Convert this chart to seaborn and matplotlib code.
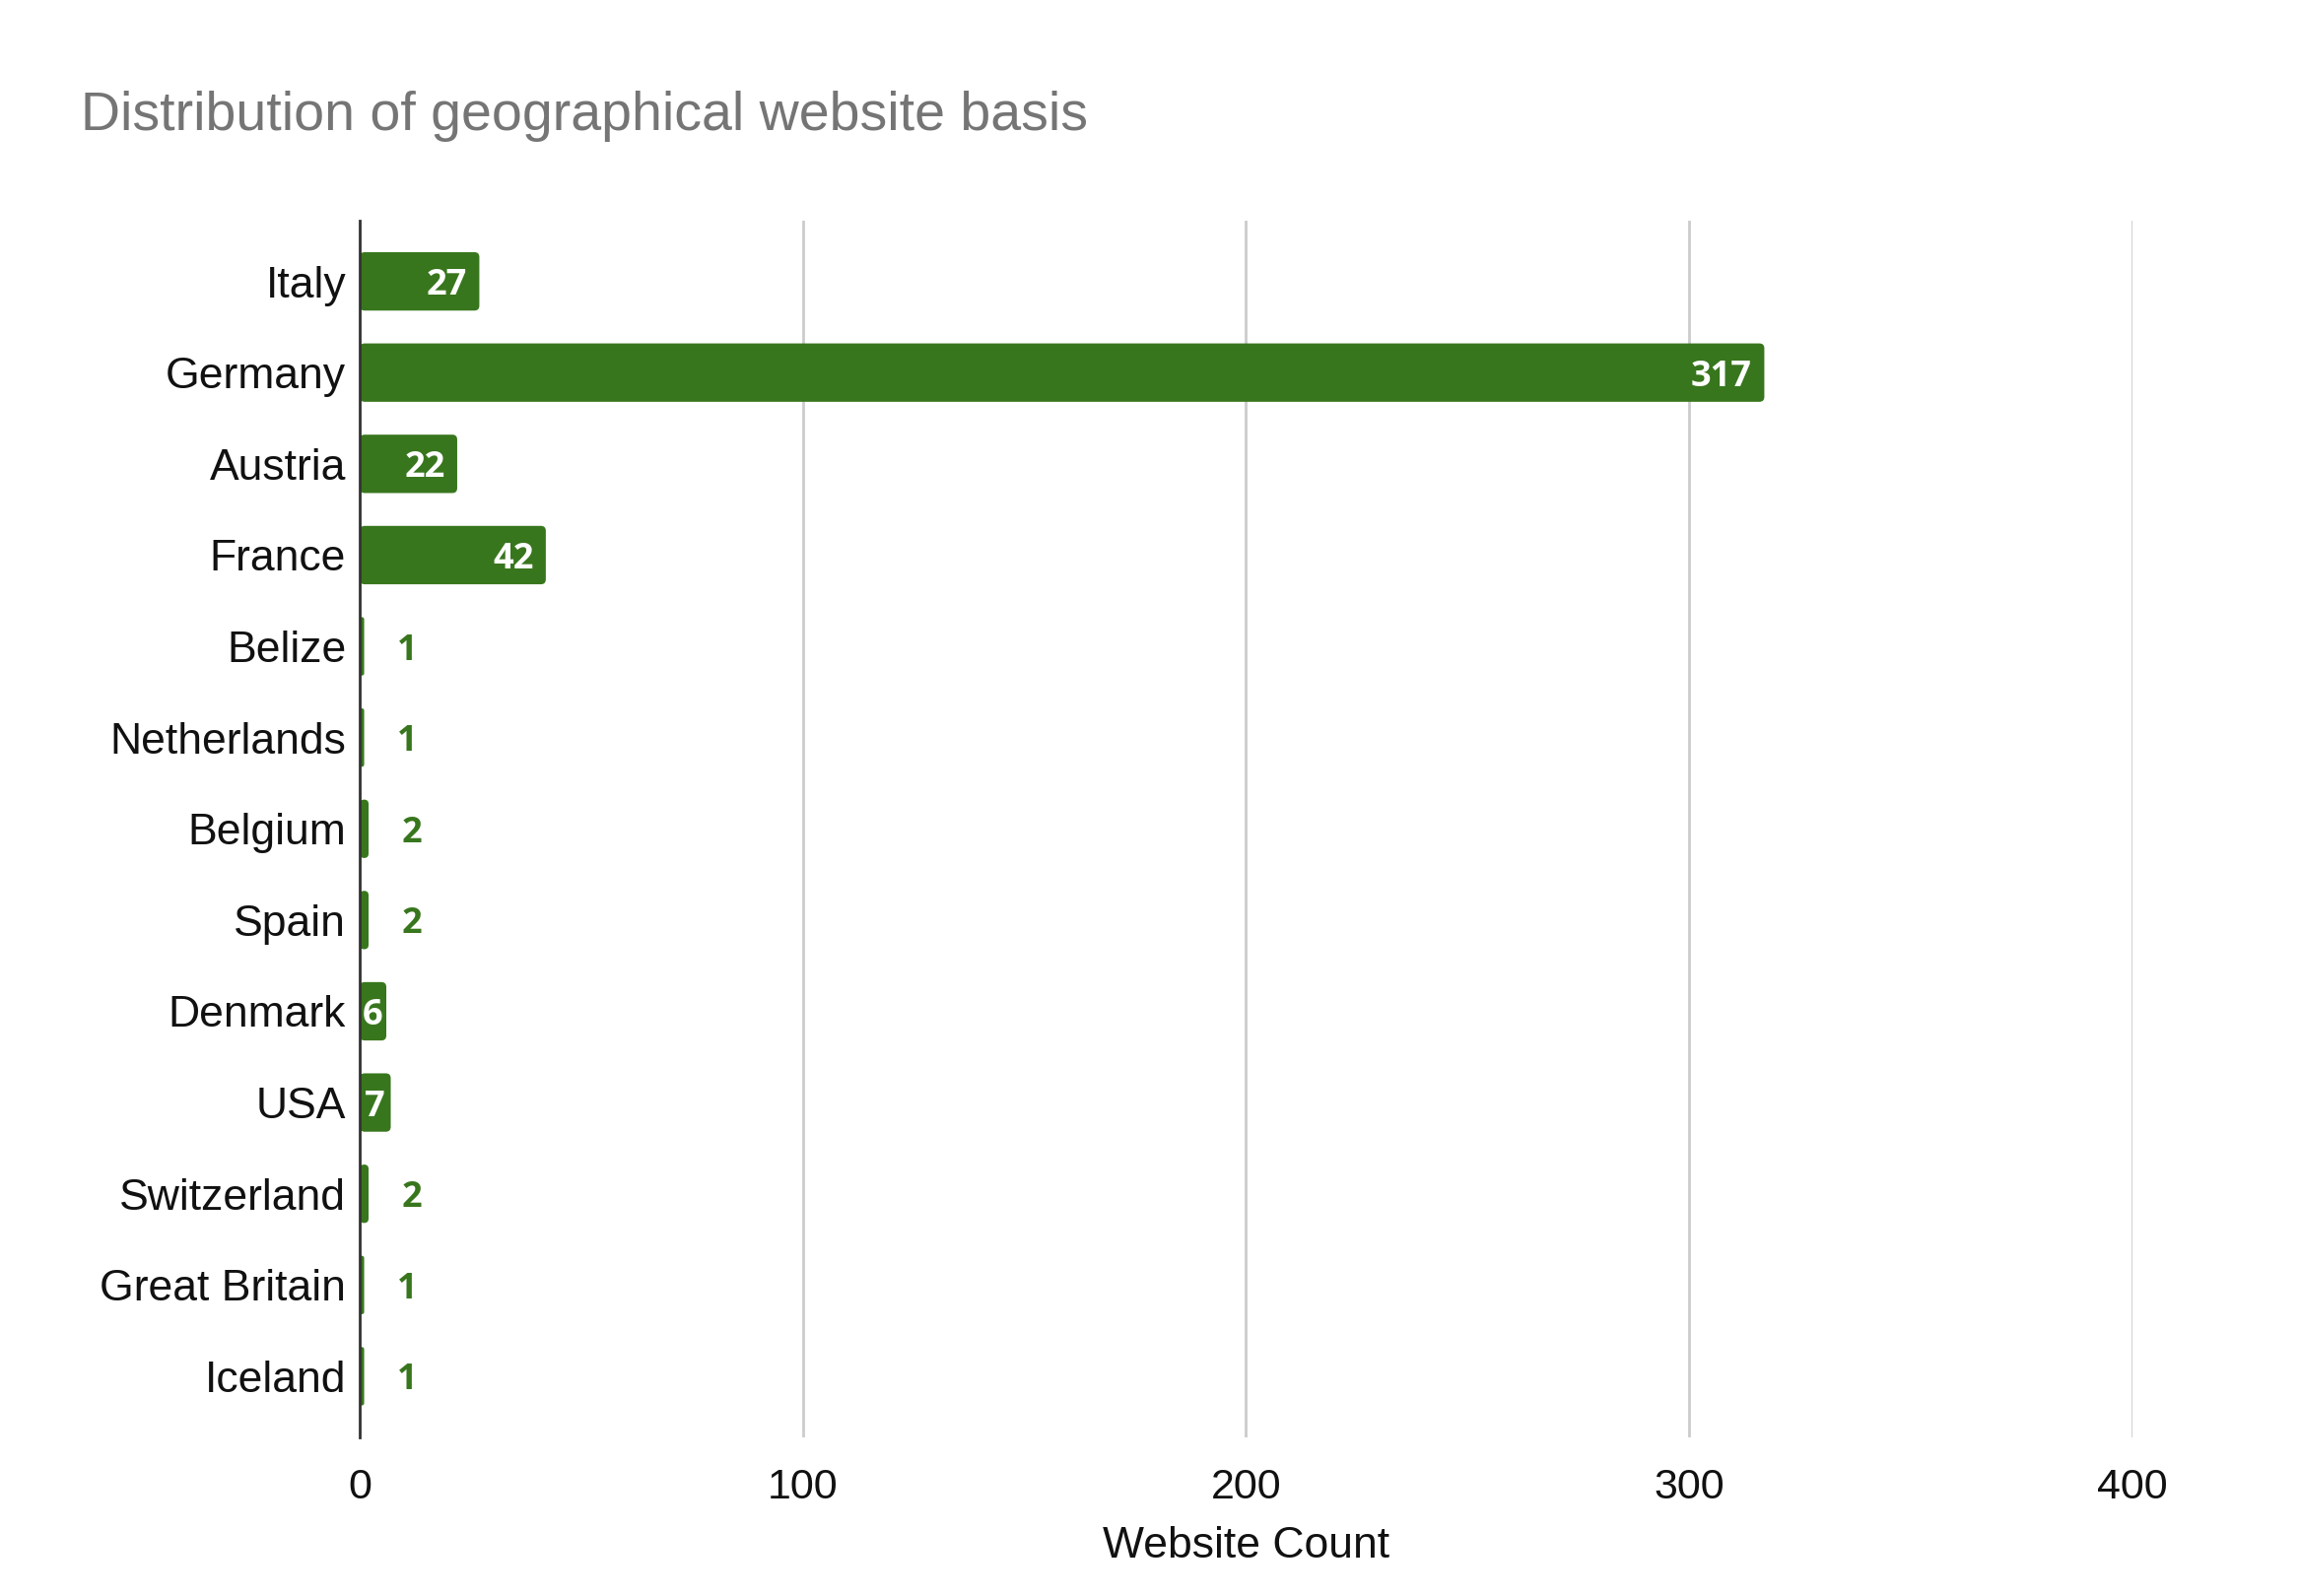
import pandas as pd
import seaborn as sns
import matplotlib.pyplot as plt
from matplotlib.patches import FancyBboxPatch
import numpy as np

# data
countries = ["Italy", "Germany", "Austria", "France", "Belize", "Netherlands", "Belgium",
             "Spain", "Denmark", "USA", "Switzerland", "Great Britain", "Iceland"]
counts = [27, 317, 22, 42, 1, 1, 2, 2, 6, 7, 2, 1, 1]
xticks = [0, 100, 200, 300, 400]

df = pd.DataFrame({"country": countries, "count": counts})

sns.set_style("white")
plt.rcParams['font.family'] = ['Liberation Sans', 'DejaVu Sans']

green = "#38761d"

fig = plt.figure(figsize=(23.34, 16.2), dpi=100)
ax = fig.add_axes([0.1564, 0.0994, 0.927 - 0.1564, 0.862 - 0.0994])

sns.barplot(data=df, y="country", x="count", color=green, saturation=1,
            width=0.64, orient="h", ax=ax)

ax.set_xlim(0, 400)
ax.set_ylim(len(countries) - 1 + 0.67, -0.67)

# swap plain bars for slightly rounded ones
px_x = ax.get_window_extent().width / 400
px_y = ax.get_window_extent().height / (len(countries) + 0.34)
for p in list(ax.patches):
    x0, y0, w, h = p.get_x(), p.get_y(), p.get_width(), p.get_height()
    r = min(5 / px_x, w / 2)
    fb = FancyBboxPatch((x0, y0), w, h, boxstyle=f"round,pad=0,rounding_size={r}",
                        mutation_aspect=px_x / px_y, facecolor=green,
                        edgecolor="none", zorder=p.get_zorder())
    p.remove()
    ax.add_patch(fb)

ax.set_xticks(xticks)
ax.set_xticklabels([str(t) for t in xticks])
ax.grid(axis="x", color="#cccccc", linewidth=2)
ax.set_axisbelow(True)
for s in ["top", "right", "bottom"]:
    ax.spines[s].set_visible(False)
ax.spines["left"].set_color("#333333")
ax.spines["left"].set_linewidth(2)
ax.spines["left"].set_zorder(5)
ax.tick_params(axis="both", length=0)
ax.tick_params(axis="y", labelsize=32, pad=10, labelcolor="#111111")
ax.tick_params(axis="x", labelsize=31, pad=22, labelcolor="#111111")
ax.set_ylabel("")
ax.set_xlabel("Website Count", fontsize=32, labelpad=14, color="#111111")

# value labels
for i, v in enumerate(counts):
    if v >= 20:
        ax.annotate(str(v), (v, i), xytext=(-9, 0), textcoords="offset points",
                    ha="right", va="center_baseline", color="white", fontsize=26,
                    fontweight="bold", family="Open Sans")
    elif v >= 5:
        ax.annotate(str(v), (v / 2, i), ha="center", va="center_baseline", color="white",
                    fontsize=26, fontweight="bold", family="Open Sans")
    else:
        ax.annotate(str(v), (v, i), xytext=(24, 0), textcoords="offset points",
                    ha="left", va="center_baseline", color=green, fontsize=26,
                    fontweight="bold", family="Open Sans")

fig.text(0.0351, 0.927, "Distribution of geographical website basis", fontsize=40,
         color="#757575", ha="left", va="center")

fig.savefig("out.png", dpi=100)
